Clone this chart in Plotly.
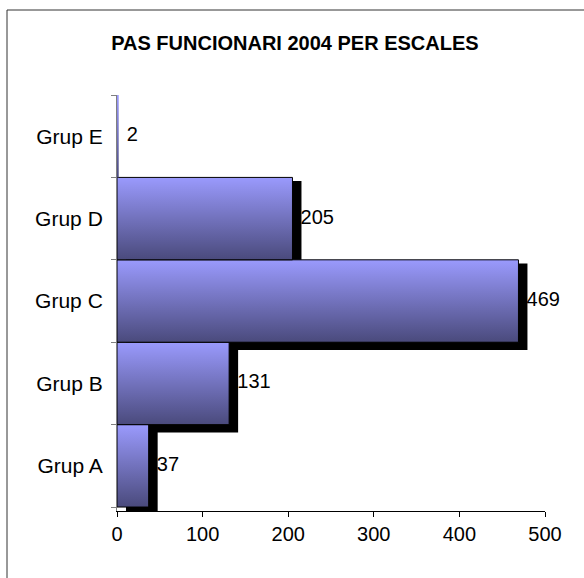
import plotly.graph_objects as go

# data
categories = ["Grup A", "Grup B", "Grup C", "Grup D", "Grup E"]
values = [37, 131, 469, 205, 2]
x_ticks = [0, 100, 200, 300, 400, 500]
title = "PAS FUNCIONARI 2004 PER ESCALES"

FONT = "Liberation Sans, Arial, sans-serif"
SHADOW_DX = 10.5    # x units
SHADOW_DY = 0.07    # category units
GRADIENT = [[0, "#4a4a7c"], [1, "#9a9afd"]]

positions = list(range(len(categories)))

fig = go.Figure()

# drop shadows behind the bars (too-thin bars get none, as in the original)
fig.add_trace(
    go.Bar(
        orientation="h",
        y=[p - SHADOW_DY for p in positions],
        x=[v if v > SHADOW_DX else 0 for v in values],
        base=SHADOW_DX,
        width=1.05,
        marker=dict(color="black", line=dict(width=0)),
        hoverinfo="skip",
        showlegend=False,
    )
)

# bars with vertical gradient fill
for p, v in zip(positions, values):
    fig.add_trace(
        go.Scatter(
            x=[0, v, v, 0, 0],
            y=[p - 0.5, p - 0.5, p + 0.5, p + 0.5, p - 0.5],
            mode="lines",
            fill="toself",
            fillgradient=dict(type="vertical", colorscale=GRADIENT),
            line=dict(color="black", width=1 if v > SHADOW_DX else 0),
            hoverinfo="skip",
            showlegend=False,
        )
    )

# value labels
fig.add_trace(
    go.Scatter(
        x=[v + SHADOW_DX - 1 for v in values],
        y=positions,
        mode="text",
        text=[str(v) for v in values],
        textposition="middle right",
        textfont=dict(family=FONT, size=20, color="black"),
        cliponaxis=False,
        hoverinfo="skip",
        showlegend=False,
    )
)

fig.update_layout(
    width=584,
    height=578,
    margin=dict(l=117, r=39, t=95, b=67),
    paper_bgcolor="white",
    plot_bgcolor="white",
    font=dict(family=FONT, size=20, color="black"),
    title=dict(
        text=title,
        x=0.505,
        xanchor="center",
        y=1 - 43 / 578,
        yanchor="middle",
        font=dict(family=FONT, size=20, color="black", weight="bold"),
    ),
    xaxis=dict(
        range=[0, 500],
        tickvals=x_ticks,
        ticks="outside",
        ticklen=5,
        tickcolor="black",
        showline=True,
        linecolor="black",
        linewidth=1,
        showgrid=False,
        zeroline=False,
        tickfont=dict(family=FONT, size=20, color="black"),
    ),
    yaxis=dict(
        range=[-0.548, 4.5],
        tickvals=positions,
        ticktext=categories,
        ticks="outside",
        ticklen=5,
        tickcolor="rgba(0,0,0,0)",
        ticklabelstandoff=4,
        minor=dict(
            tickvals=[p - 0.5 for p in positions] + [positions[-1] + 0.5],
            ticks="outside",
            ticklen=5,
            tickcolor="#808080",
        ),
        showline=True,
        linecolor="#808080",
        linewidth=1,
        showgrid=False,
        zeroline=False,
        tickfont=dict(family=FONT, size=21, color="black"),
    ),
    shapes=[
        dict(
            type="rect",
            xref="paper",
            yref="paper",
            x0=-110 / 428,
            x1=1.3,
            y0=-0.3,
            y1=501 / 416,
            line=dict(color="#333333", width=1),
            fillcolor="rgba(0,0,0,0)",
            layer="below",
        )
    ],
)

fig.write_html(
    "out.html",
    config={"displayModeBar": False},
    post_script="document.body.style.margin = '0';",
)
